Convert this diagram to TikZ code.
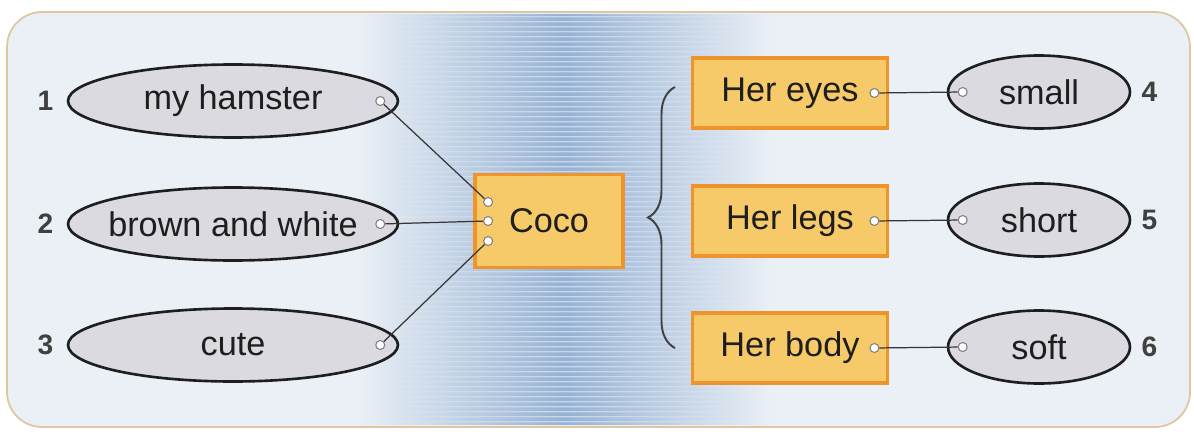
\documentclass[tikz,border=0pt]{standalone}
\usepackage{fontspec}
\setmainfont{Liberation Sans}
\usetikzlibrary{positioning,shapes.geometric,decorations.pathreplacing,fadings}

\definecolor{ink}{RGB}{30,30,30}
\definecolor{panelbg}{RGB}{234,240,246}
\definecolor{panelblue}{RGB}{150,178,212}
\definecolor{frameline}{RGB}{222,198,160}
\definecolor{ovalgrey}{RGB}{218,218,224}
\definecolor{boxfill}{RGB}{246,202,104}
\definecolor{boxline}{RGB}{238,148,42}

\tikzfading[name=sidefade, left color=transparent!100, right color=transparent!100, middle color=transparent!0]

\tikzset{
  oval/.style={ellipse, draw=ink, line width=1.5pt, fill=ovalgrey, inner sep=0pt,
    minimum height=1.46cm, text=ink, font=\fontsize{19.5}{22}\selectfont},
  bigoval/.style={oval, minimum width=6.6cm},
  smalloval/.style={oval, minimum width=3.64cm},
  wordbox/.style={rectangle, draw=boxline, line width=2.2pt, fill=boxfill, inner sep=0pt,
    text=ink, font=\fontsize{19.5}{22}\selectfont},
  numlabel/.style={inner sep=0pt, text=ink!85, font=\fontsize{16}{18}\selectfont\bfseries},
  pin/.style={circle, draw=gray, fill=white, line width=0.6pt, minimum size=0.18cm, inner sep=0pt},
  link/.style={ink!90, line width=0.7pt}
}

\newcommand{\ovaltext}[1]{\makebox[0pt][c]{#1}}

\begin{document}
\begin{tikzpicture}[x=0.02cm, y=-0.02cm]

\useasboundingbox (0,0) rectangle (1194,433);

% panel
\draw[frameline, line width=1pt, fill=panelbg, rounded corners=0.7cm] (7,12) rectangle (1190,427);
\fill[panelblue, path fading=sidefade] (360,14) rectangle (770,425);
\fill[white, opacity=0.5, path fading=sidefade]
  foreach \y in {16,21,...,421} {(370,\y) rectangle (760,\y+1.3)};

% left ovals
\node[bigoval] (hamster) at (233,101) {\ovaltext{my hamster}};
\node[bigoval] (colour) at (233,224) {\ovaltext{brown and white}};
\node[bigoval] (cute) at (233,345) {\ovaltext{cute}};

\node[numlabel, left=0.26cm of hamster] (n1) {1};
\node[numlabel, left=0.26cm of colour] (n2) {2};
\node[numlabel, left=0.26cm of cute] (n3) {3};

% centre
\node[wordbox, minimum width=2.96cm, minimum height=1.86cm] (coco) at (549,221) {Coco};

% right boxes
\node[wordbox, minimum width=3.9cm, minimum height=1.4cm] (eyes) at (790,93) {Her eyes};
\node[wordbox, minimum width=3.9cm, minimum height=1.4cm] (legs) at (790,221) {Her legs};
\node[wordbox, minimum width=3.9cm, minimum height=1.4cm] (body) at (790,348) {Her body};

% right ovals
\node[smalloval] (small) at (1039,92) {small};
\node[smalloval] (short) at (1039,220) {short};
\node[smalloval] (soft) at (1039,347) {soft};

\node[numlabel, right=0.2cm of small] (n4) {4};
\node[numlabel, right=0.2cm of short] (n5) {5};
\node[numlabel, right=0.2cm of soft] (n6) {6};

% pins
\node[pin, left=0.28cm of hamster.east] (p1) {};
\node[pin, left=0.28cm of colour.east] (p2) {};
\node[pin, left=0.28cm of cute.east] (p3) {};
\node[pin, right=0.2cm of coco.west, yshift=0.38cm] (c1) {};
\node[pin, right=0.2cm of coco.west] (c2) {};
\node[pin, right=0.2cm of coco.west, yshift=-0.4cm] (c3) {};
\node[pin, left=0.2cm of eyes.east] (q4) {};
\node[pin, left=0.2cm of legs.east] (q5) {};
\node[pin, left=0.2cm of body.east] (q6) {};
\node[pin, right=0.22cm of small.west] (r4) {};
\node[pin, right=0.22cm of short.west] (r5) {};
\node[pin, right=0.22cm of soft.west] (r6) {};

% links
\draw[link] (p1) -- (c1);
\draw[link] (p2) -- (c2);
\draw[link] (p3) -- (c3);
\draw[link] (q4) -- (r4);
\draw[link] (q5) -- (r5);
\draw[link] (q6) -- (r6);

% brace
\draw[ink!85, line width=1.1pt, decorate, decoration={brace, amplitude=0.54cm}] (675,348) -- (675,87);

\end{tikzpicture}
\end{document}
